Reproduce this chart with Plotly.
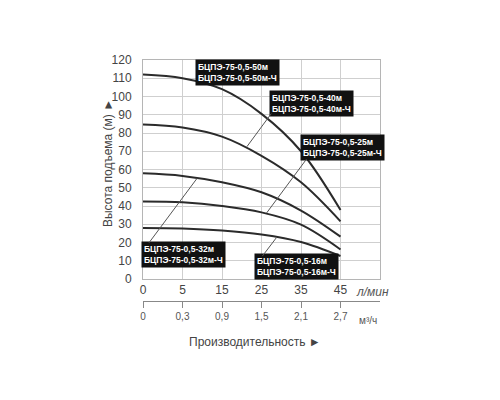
import plotly.graph_objects as go

# ---- data ----
flow_lpm = ["0", "5", "15", "25", "35", "45"]
flow_m3h = ["0", "0,3", "0,9", "1,5", "2,1", "2,7"]
x_pos = list(range(len(flow_lpm)))

head_16 = [28.0, 27.7, 26.6, 24.4, 20.3, 12.6]
head_25 = [42.4, 42.0, 40.0, 36.5, 29.8, 16.2]
head_32 = [57.9, 56.5, 53.0, 47.5, 37.5, 23.2]
head_40 = [84.6, 83.0, 78.0, 67.5, 53.0, 31.6]
head_50 = [112.0, 110.0, 104.0, 90.5, 70.0, 37.8]

models = ["16", "25", "32", "40", "50"]
heads = [head_16, head_25, head_32, head_40, head_50]

# label box centres (x index, head) and leader lines (tail -> point on curve)
label_pos = {"50": (2.40, 113.4), "40": (4.26, 96.4), "25": (5.06, 71.8),
             "32": (1.02, 13.7), "16": (3.89, 6.6)}
leaders = {"40": ((3.26, 91.0), (2.63, 72.5)),
           "25": ((4.15, 66.0), (3.13, 36.2)),
           "32": ((0.14, 19.5), (1.37, 55.2)),
           "16": ((3.01, 12.2), (3.39, 23.0))}

fig = go.Figure()
for m, h in zip(models, heads):
    fig.add_trace(go.Scatter(x=x_pos, y=h, mode="lines",
                             line=dict(color="#2b2b2b", width=2, shape="spline", smoothing=1.0),
                             name=m, showlegend=False, hoverinfo="skip"))
# invisible trace for secondary (m3/h) axis
fig.add_trace(go.Scatter(x=x_pos, y=[None] * len(x_pos), xaxis="x2", mode="lines",
                         showlegend=False, hoverinfo="skip"))

font_main = "Liberation Sans, Arial, sans-serif"
annotations = []
for m, (lx, ly) in label_pos.items():
    annotations.append(dict(
        x=lx, y=ly, xref="x", yref="y", showarrow=False,
        text=f"БЦПЭ-75-0,5-{m}м<br>БЦПЭ-75-0,5-{m}м-Ч",
        font=dict(family=font_main, size=8.5, color="white", weight="bold"),
        bgcolor="#111111", borderpad=2, align="left"))
for m, ((tx, ty), (hx, hy)) in leaders.items():
    annotations.append(dict(
        x=hx, y=hy, xref="x", yref="y", ax=tx, ay=ty, axref="x", ayref="y",
        text=" ", font=dict(size=1), borderpad=0, showarrow=True, arrowhead=0,
        arrowwidth=1, arrowcolor="#555555", standoff=0, startstandoff=0))

annotations += [
    dict(x=5.82, y=0.037, xref="x", yref="paper", text="<i>л/мин</i>", showarrow=False,
         xanchor="center", yanchor="middle",
         font=dict(family=font_main, size=12, color="#555")),
    dict(x=5.7, y=-0.079, xref="x", yref="paper", text="м³/ч", showarrow=False,
         xanchor="center", yanchor="middle",
         font=dict(family=font_main, size=10, color="#555")),
    dict(x=2.84, y=-0.170, xref="x", yref="paper", text="Производительность ►", showarrow=False,
         xanchor="center", yanchor="middle",
         font=dict(family=font_main, size=12, color="#444")),
    dict(x=-0.1475, y=0.5726, xref="paper", yref="paper", text="Высота подъема (м) ►",
         xanchor="center", yanchor="middle",
         textangle=-90, showarrow=False, font=dict(family=font_main, size=12, color="#444")),
]

fig.update_layout(
    width=500, height=400, autosize=False,
    margin=dict(l=135, r=128, t=52, b=107, autoexpand=False),
    paper_bgcolor="white", plot_bgcolor="white",
    font=dict(family=font_main),
    xaxis=dict(range=[0, 6], tickvals=x_pos, ticktext=flow_lpm, ticks="",
               showgrid=True, gridcolor="#cfcfcf", gridwidth=1, automargin=False,
               showline=True, mirror=True, linecolor="#b5b5b5", linewidth=1,
               zeroline=False, tickfont=dict(size=12, color="#444"), anchor="y"),
    xaxis2=dict(range=[0, 6], tickvals=x_pos, ticktext=flow_m3h, overlaying="x",
                anchor="free", position=0, side="bottom", ticks="outside", ticklen=6,
                tickcolor="#888", showline=True, linecolor="#888", linewidth=1, automargin=False,
                showgrid=False, zeroline=False, tickfont=dict(size=10, color="#555")),
    yaxis=dict(range=[0, 120], dtick=10, domain=[22 / 241, 1], ticks="",
               showgrid=True, gridcolor="#cfcfcf", gridwidth=1, automargin=False,
               showline=True, mirror=True, linecolor="#b5b5b5", linewidth=1,
               zeroline=False, tickfont=dict(size=12, color="#444"), ticklabelstandoff=8),
    annotations=annotations,
)

fig.write_html("out.html")
